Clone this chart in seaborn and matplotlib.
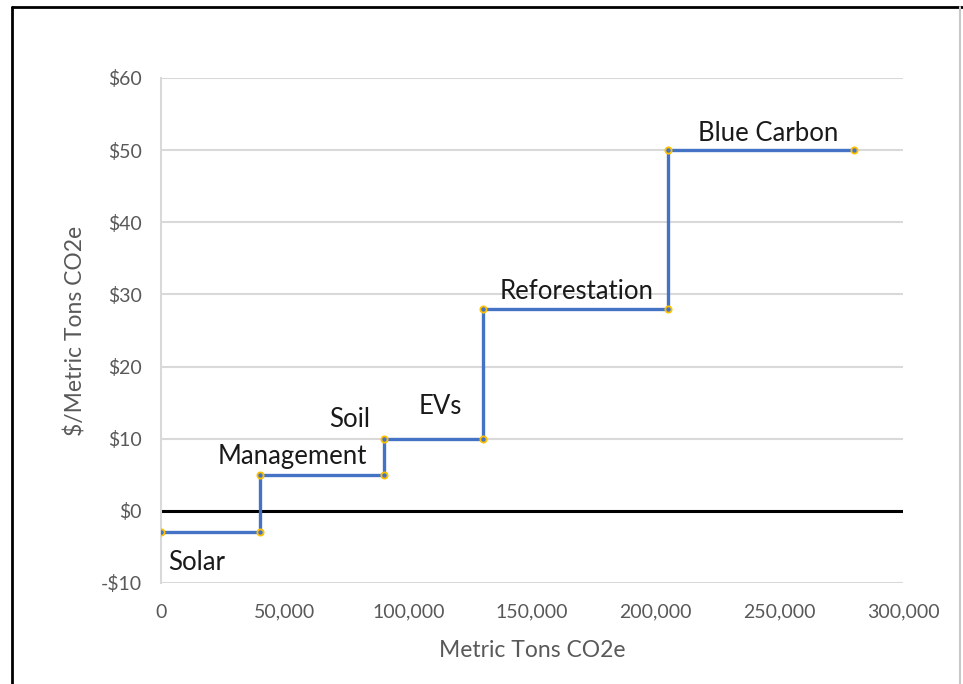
import matplotlib
matplotlib.use("Agg")
import matplotlib.pyplot as plt
from matplotlib.lines import Line2D
from matplotlib.ticker import FuncFormatter, MultipleLocator
import seaborn as sns
import pandas as pd

# Abatement projects: cumulative tonnage boundaries and cost per ton
projects = ["Solar", "Soil\nManagement", "EVs", "Reforestation", "Blue Carbon"]
bounds = [0, 40000, 90000, 130000, 205000, 280000]
costs = [-3, 5, 10, 28, 50]

# label anchor positions (data coords) for each project name
label_x = [14500, 53000, 112800, 168200, 245400]
label_y = [-7.2, 7.5, 14.4, 30.4, 52.3]

# step vertices of the marginal abatement cost curve
xs, ys = [], []
for i, c in enumerate(costs):
    xs += [bounds[i], bounds[i + 1]]
    ys += [c, c]
df = pd.DataFrame({"tons": xs, "cost": ys})

sns.set_theme(style="white")
plt.rcParams["font.family"] = ["Lato", "DejaVu Sans"]

fig = plt.figure(figsize=(9.63, 6.84), dpi=100)
ax = fig.add_axes([0.1672, 0.1477, 0.7705, 0.7383])

ax.set_xlim(0, 300000)
ax.set_ylim(-10, 60)
ax.yaxis.set_major_locator(MultipleLocator(10))
ax.xaxis.set_major_locator(MultipleLocator(50000))
ax.grid(axis="y", color="#D9D9D9", linewidth=1.5)
ax.set_axisbelow(True)
for s in ["top", "right", "bottom"]:
    ax.spines[s].set_visible(False)
ax.spines["left"].set_color("#D9D9D9")
ax.spines["left"].set_linewidth(1.5)

ax.axhline(0, color="black", linewidth=2.2, zorder=2)

sns.lineplot(data=df, x="tons", y="cost", sort=False, estimator=None,
             color="#4472C4", linewidth=2.4, marker="o", markersize=4.5,
             markerfacecolor="#4472C4", markeredgecolor="#FFC000",
             markeredgewidth=1.3, ax=ax, zorder=3)

def money(v, pos):
    v = int(round(v))
    return f"-${abs(v)}" if v < 0 else f"${v}"

ax.yaxis.set_major_formatter(FuncFormatter(money))
ax.xaxis.set_major_formatter(FuncFormatter(lambda v, p: f"{int(v):,}"))
ax.tick_params(axis="both", colors="#595959", labelsize=14, length=0)
ax.tick_params(axis="y", pad=14)
ax.tick_params(axis="x", pad=15)

ax.set_xlabel("Metric Tons CO2e", color="#595959", fontsize=16.5, labelpad=14)
ax.set_ylabel("$/Metric Tons CO2e", color="#595959", fontsize=16.5, labelpad=10)

text_kw = dict(fontsize=18.5, color="#1A1A1A", ha="center", va="center")
for name, lx, ly in zip(projects, label_x, label_y):
    if "\n" in name:
        top, bottom = name.split("\n")
        ax.text(76400, 12.6, top, **text_kw)
        ax.text(lx, ly, bottom, **text_kw)
    else:
        ax.text(lx, ly, name, **text_kw)

# outer frame around the chart area
fig.add_artist(Line2D([12 / 963, 1.0], [1 - 7 / 684, 1 - 7 / 684], color="black", linewidth=2))
fig.add_artist(Line2D([12 / 963, 12 / 963], [0, 1 - 7 / 684], color="black", linewidth=2))
fig.add_artist(Line2D([960 / 963, 960 / 963], [0, 1 - 7 / 684], color="#C8C8C8", linewidth=1.5))

fig.savefig("out.png", dpi=100)
